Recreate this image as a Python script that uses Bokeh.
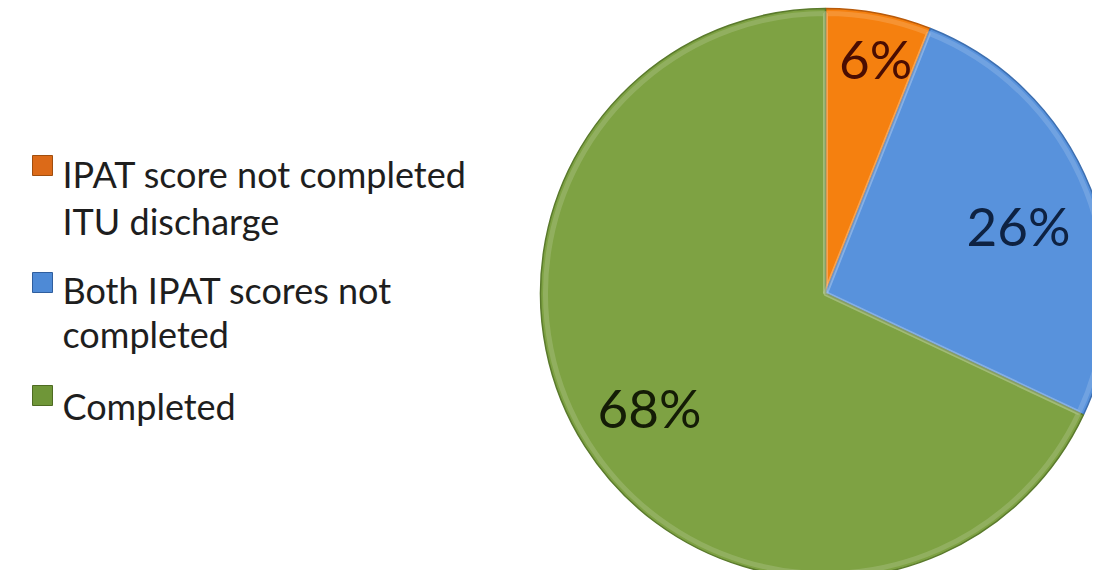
from math import pi
from bokeh.plotting import figure
from bokeh.models import Range1d, ColumnDataSource
from bokeh.core.properties import value
from bokeh.embed import file_html
from bokeh.resources import INLINE

# ---- data ----
categories = ["IPAT score not completed ITU discharge", "Both IPAT scores not completed", "Completed"]
legend_lines = [["IPAT score not completed", "ITU discharge"], ["Both IPAT scores not", "completed"], ["Completed"]]
shares = [6, 26, 68]
labels = ["6%", "26%", "68%"]
colors = ["#F5800F", "#5892DC", "#7EA243"]
edge_colors = ["#B85A0A", "#3D6FB0", "#5A7A2C"]
square_colors = ["#DC6A18", "#4E8AD6", "#6F9638"]
label_colors = ["#4A0D02", "#0E2242", "#141C06"]

W, H = 1092, 570
p = figure(width=W, height=H, output_backend="svg", toolbar_location=None,
           x_range=Range1d(0, W), y_range=Range1d(0, H), min_border=0)
p.axis.visible = False
p.grid.visible = False
p.outline_line_color = None
p.background_fill_color = "white"

# pie geometry (pixel-like data units)
cx, cy, r = 825, 277, 285
total = sum(shares)
starts, ends = [], []
a = pi / 2
for s in shares:
    starts.append(a)
    a = a - s / total * 2 * pi
    ends.append(a)

src = ColumnDataSource(dict(start=starts, end=ends, color=colors, edge=edge_colors))
p.wedge(x=cx, y=cy, radius=r, start_angle="start", end_angle="end", direction="clock",
        fill_color="color", line_color="edge", line_width=1.5, source=src)
# subtle bevel highlight
p.wedge(x=cx, y=cy, radius=r - 5, start_angle="start", end_angle="end", direction="clock",
        fill_color=None, line_color="white", line_alpha=0.15, line_width=5, source=src)

# percentage labels (positions in pie)
lab_x = [875, 1018, 649]
lab_y = [512, 345, 163]
p.text(x=lab_x, y=lab_y, text=labels, text_color=label_colors,
       text_font=value("Lato"), text_font_size="53px",
       text_align="center", text_baseline="middle")

# legend
sq_x = 42
sq_y = [405, 288, 175]
p.rect(x=[sq_x] * 3, y=sq_y, width=20, height=20, fill_color=square_colors,
       line_color=["#A04E0E", "#2F5E9E", "#4E6B22"], line_width=1)

baselines = [[397, 350], [281, 237], [165]]
tx, ty, tt = [], [], []
for lines, bls in zip(legend_lines, baselines):
    for line, b in zip(lines, bls):
        tx.append(62)
        ty.append(b)
        tt.append(line)
p.text(x=tx, y=ty, text=tt, text_color="#1E1E1E", text_font=value("Lato"),
       text_font_size="36px", text_align="left", text_baseline="alphabetic")

open("out.html", "w").write(file_html(p, INLINE))
